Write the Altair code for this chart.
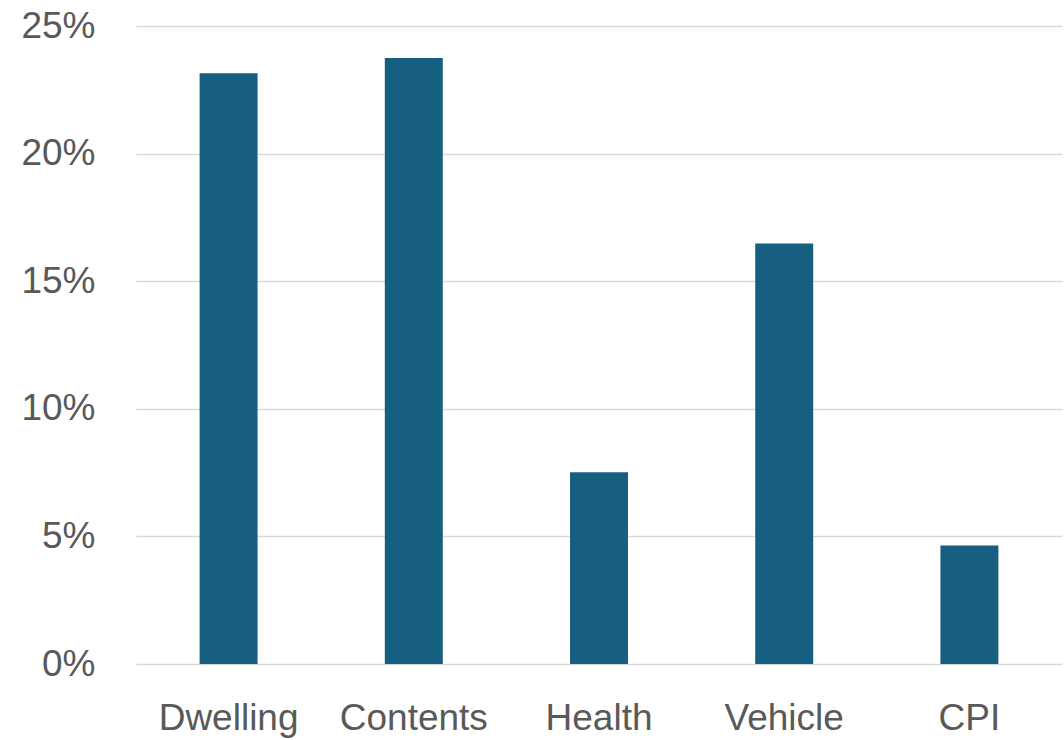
import altair as alt
import pandas as pd

categories = ["Dwelling", "Contents", "Health", "Vehicle", "CPI"]
values = [0.2315, 0.2375, 0.0751, 0.1648, 0.0464]

df = pd.DataFrame({"category": categories, "value": values})

FONT = "Liberation Sans"
chart = alt.Chart(df).mark_bar(color="#175f80").encode(
    x=alt.X("category:N", sort=categories, title=None,
            scale=alt.Scale(paddingInner=0.687, paddingOuter=0.3435),
            axis=alt.Axis(labelAngle=0, labelFontSize=37, labelColor="#595959",
                          labelFont=FONT, labelPadding=36, domain=False, ticks=False,
                          grid=False)),
    y=alt.Y("value:Q", title=None,
            scale=alt.Scale(domain=[0, 0.25], nice=False),
            axis=alt.Axis(format=".0%", values=[0, 0.05, 0.10, 0.15, 0.20, 0.25],
                          labelFontSize=37, labelColor="#595959", labelFont=FONT,
                          labelPadding=41, domain=False, ticks=False,
                          gridColor="#d9d9d9", gridWidth=1.5)),
).properties(
    width=926, height=638,
    autosize=alt.AutoSizeParams(type="none"),
    padding={"left": 136, "top": 26, "right": 2, "bottom": 76},
).configure(background="white").configure_view(stroke=None, strokeWidth=0)

chart.save("out.html", embed_options={"renderer": "svg", "actions": False})
